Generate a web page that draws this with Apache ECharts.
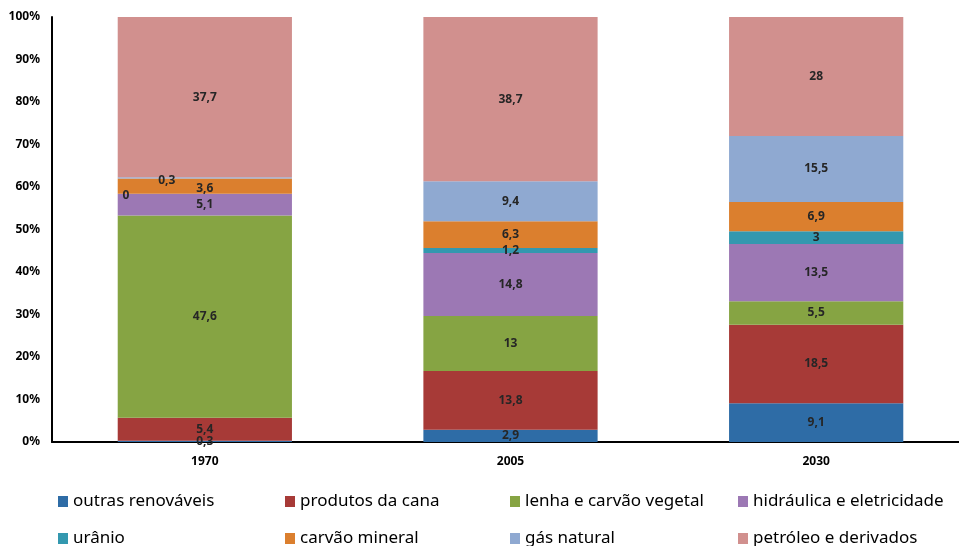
<!DOCTYPE html>
<html>
<head>
<meta charset="utf-8">
<script src="https://cdn.jsdelivr.net/npm/echarts@6/dist/echarts.min.js"></script>
<style>
  html, body { margin: 0; padding: 0; background: #fff; }
  #chart { width: 959px; height: 546px; }
</style>
</head>
<body>
<div id="chart"></div>
<script>
// anos
const years = ['1970', '2005', '2030'];
// fontes de energia (%)
const outrasRenovaveis = [0.3, 2.9, 9.1];
const produtosDaCana = [5.4, 13.8, 18.5];
const lenhaCarvaoVegetal = [47.6, 13, 5.5];
const hidraulica = [5.1, 14.8, 13.5];
const uranio = [0, 1.2, 3];
const carvaoMineral = [3.6, 6.3, 6.9];
const gasNatural = [0.3, 9.4, 15.5];
const petroleo = [37.7, 38.7, 28];
const yTicks = ['0%', '10%', '20%', '30%', '40%', '50%', '60%', '70%', '80%', '90%', '100%'];

const names = ['outras renováveis', 'produtos da cana', 'lenha e carvão vegetal', 'hidráulica e eletricidade',
  'urânio', 'carvão mineral', 'gás natural', 'petróleo e derivados'];
const values = [outrasRenovaveis, produtosDaCana, lenhaCarvaoVegetal, hidraulica, uranio, carvaoMineral, gasNatural, petroleo];
const colors = ['#2E6CA6', '#A73A37', '#86A443', '#9C78B4', '#3398AF', '#DB7F2E', '#8FA9D1', '#D1908E'];

const font = '"Liberation Sans Narrow", "Noto Sans", sans-serif';

// totais por ano, para o gráfico 100%
const totals = years.map((y, i) => values.reduce((s, arr) => s + arr[i], 0));

// deslocamentos dos rótulos pequenos em 1970 (como no original)
const labelShift = { '4-0': [-79, 2], '6-0': [-38, 3], '5-0': [0, 2] };

const series = values.map((arr, si) => ({
  name: names[si],
  type: 'bar',
  stack: 'total',
  barCategoryGap: '43%',
  itemStyle: { color: colors[si] },
  data: arr.map((v, i) => {
    const item = { value: v / totals[i] * 100, raw: v };
    const sh = labelShift[si + '-' + i];
    if (sh) item.label = { offset: sh };
    return item;
  }),
  label: {
    show: true,
    position: 'inside',
    color: '#262626',
    fontFamily: font,
    fontWeight: 'bold',
    fontSize: 12,
    formatter: p => String(p.data.raw).replace('.', ',')
  }
}));

const legendLeft = [53, 280, 505, 733];
const legends = names.map((n, i) => ({
  data: [n],
  left: legendLeft[i % 4],
  top: i < 4 ? 488 : 525,
  itemWidth: 10,
  itemHeight: 11,
  itemGap: 0,
  itemTextGap: 3,
  icon: 'rect',
  selectedMode: false,
  textStyle: { fontFamily: font, fontSize: 17, color: '#000' }
}));

const chart = echarts.init(document.getElementById('chart'));
chart.setOption({
  animation: false,
  grid: { left: 52, top: 17, bottom: 104, right: -10, outerBoundsMode: 'none' },
  legend: legends,
  xAxis: {
    type: 'category',
    data: years,
    axisLine: { lineStyle: { color: '#000', width: 2 } },
    axisTick: { show: false },
    axisLabel: { color: '#000', fontFamily: font, fontWeight: 'bold', fontSize: 12, margin: 14 }
  },
  yAxis: {
    type: 'value',
    min: 0,
    max: 100,
    interval: 10,
    splitLine: { show: false },
    axisLine: { show: true, lineStyle: { color: '#000', width: 2 } },
    axisTick: { show: false },
    axisLabel: {
      color: '#000', fontFamily: font, fontWeight: 'bold', fontSize: 12, margin: 12,
      formatter: v => yTicks[Math.round(v / 10)]
    }
  },
  series: series
});
</script>
</body>
</html>
